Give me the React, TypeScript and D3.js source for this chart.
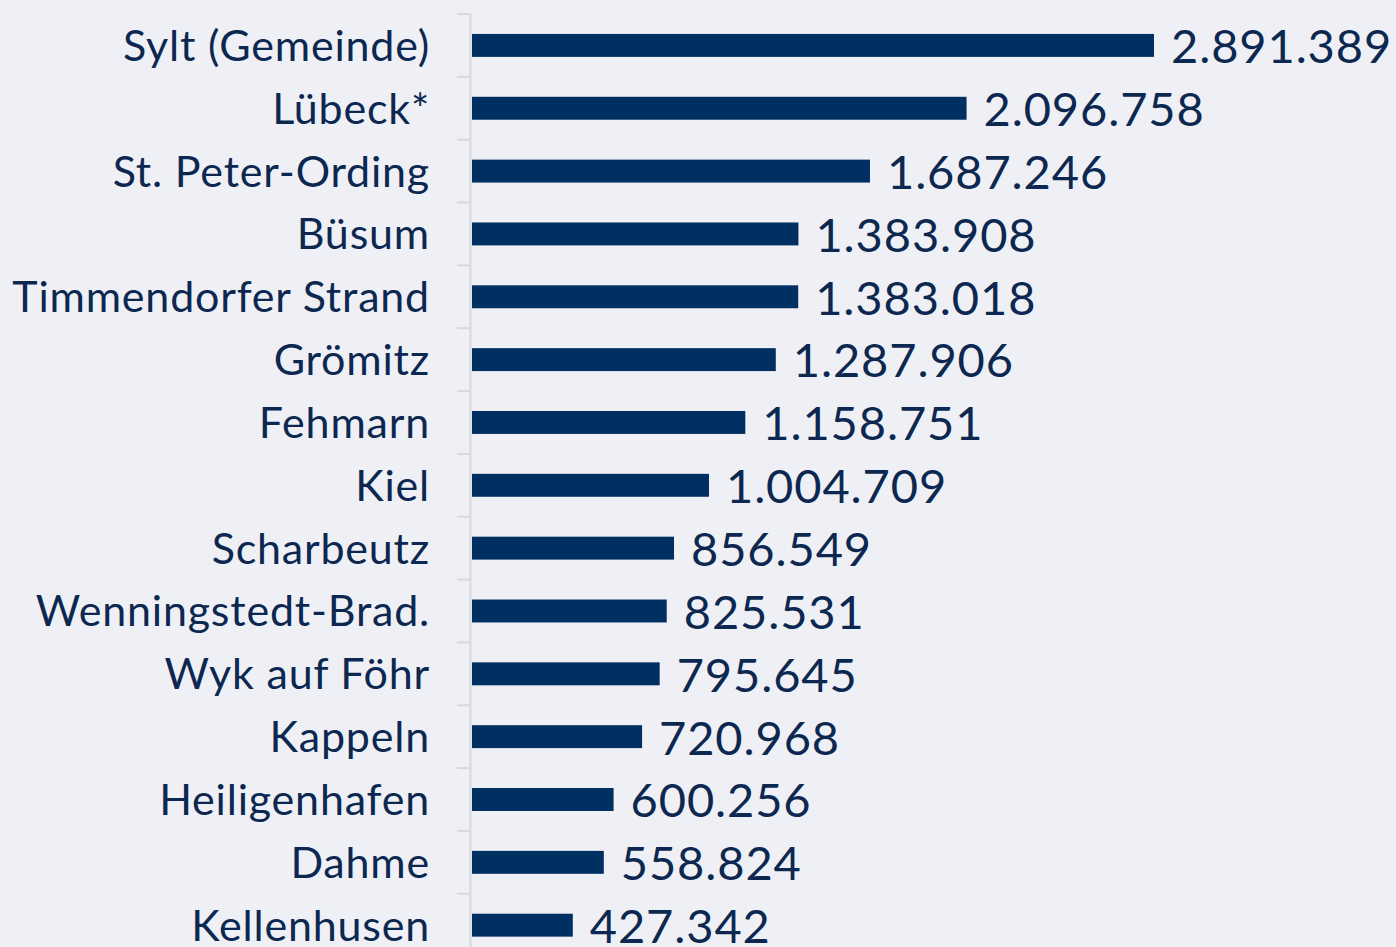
import React from "react";
import * as d3 from "d3";

const categories = [
  "Sylt (Gemeinde)",
  "Lübeck*",
  "St. Peter-Ording",
  "Büsum",
  "Timmendorfer Strand",
  "Grömitz",
  "Fehmarn",
  "Kiel",
  "Scharbeutz",
  "Wenningstedt-Brad.",
  "Wyk auf Föhr",
  "Kappeln",
  "Heiligenhafen",
  "Dahme",
  "Kellenhusen",
];

const values = [
  2891389, 2096758, 1687246, 1383908, 1383018, 1287906, 1158751, 1004709,
  856549, 825531, 795645, 720968, 600256, 558824, 427342,
];

const W = 1396;
const H = 947;
const BG = "#eff0f6";
const BAR = "#002f62";
const TEXT = "#0d2850";
const FONT = "Lato, 'Noto Sans', sans-serif";

export default function App() {
  const axisX = 470.5;
  const top = 14;
  const step = 62.84;
  const y = d3
    .scaleBand<string>()
    .domain(categories)
    .range([top, top + step * categories.length])
    .paddingInner(0.635)
    .paddingOuter(0.3175);
  const x = d3.scaleLinear().domain([0, d3.max(values)!]).range([472, 1154]);
  const fmt = (v: number) => d3.format(",")(v).replace(/,/g, ".");

  return (
    <div style={{ position: "fixed", left: 0, top: 0, width: W, height: H, background: BG }}>
      <svg width={W} height={H} style={{ display: "block" }}>
        <rect x={0} y={0} width={W} height={H} fill={BG} />
        <line x1={axisX} x2={axisX} y1={top} y2={H} stroke="#d9d9dc" strokeWidth={2} />
        {categories.map((c, i) => {
          const t = top + i * step;
          return (
            <line key={"t" + i} x1={457} x2={axisX} y1={t} y2={t} stroke="#d9d9dc" strokeWidth={2} />
          );
        })}
        {categories.map((c, i) => {
          const by = y(c)!;
          const bh = y.bandwidth();
          const cy = by + bh / 2;
          return (
            <g key={c}>
              <rect x={x(0)} y={by} width={x(values[i]) - x(0)} height={bh} fill={BAR} />
              <text
                x={430}
                y={cy}
                dy="0.36em"
                textAnchor="end"
                fontFamily={FONT}
                fontSize={43}
                letterSpacing={0.8}
                fill={TEXT}
              >
                {c}
              </text>
              <text
                x={x(values[i]) + 17}
                y={cy}
                dy="0.38em"
                textAnchor="start"
                fontFamily={FONT}
                fontSize={47}
                letterSpacing={0.9}
                fill={TEXT}
              >
                {fmt(values[i])}
              </text>
            </g>
          );
        })}
      </svg>
    </div>
  );
}
